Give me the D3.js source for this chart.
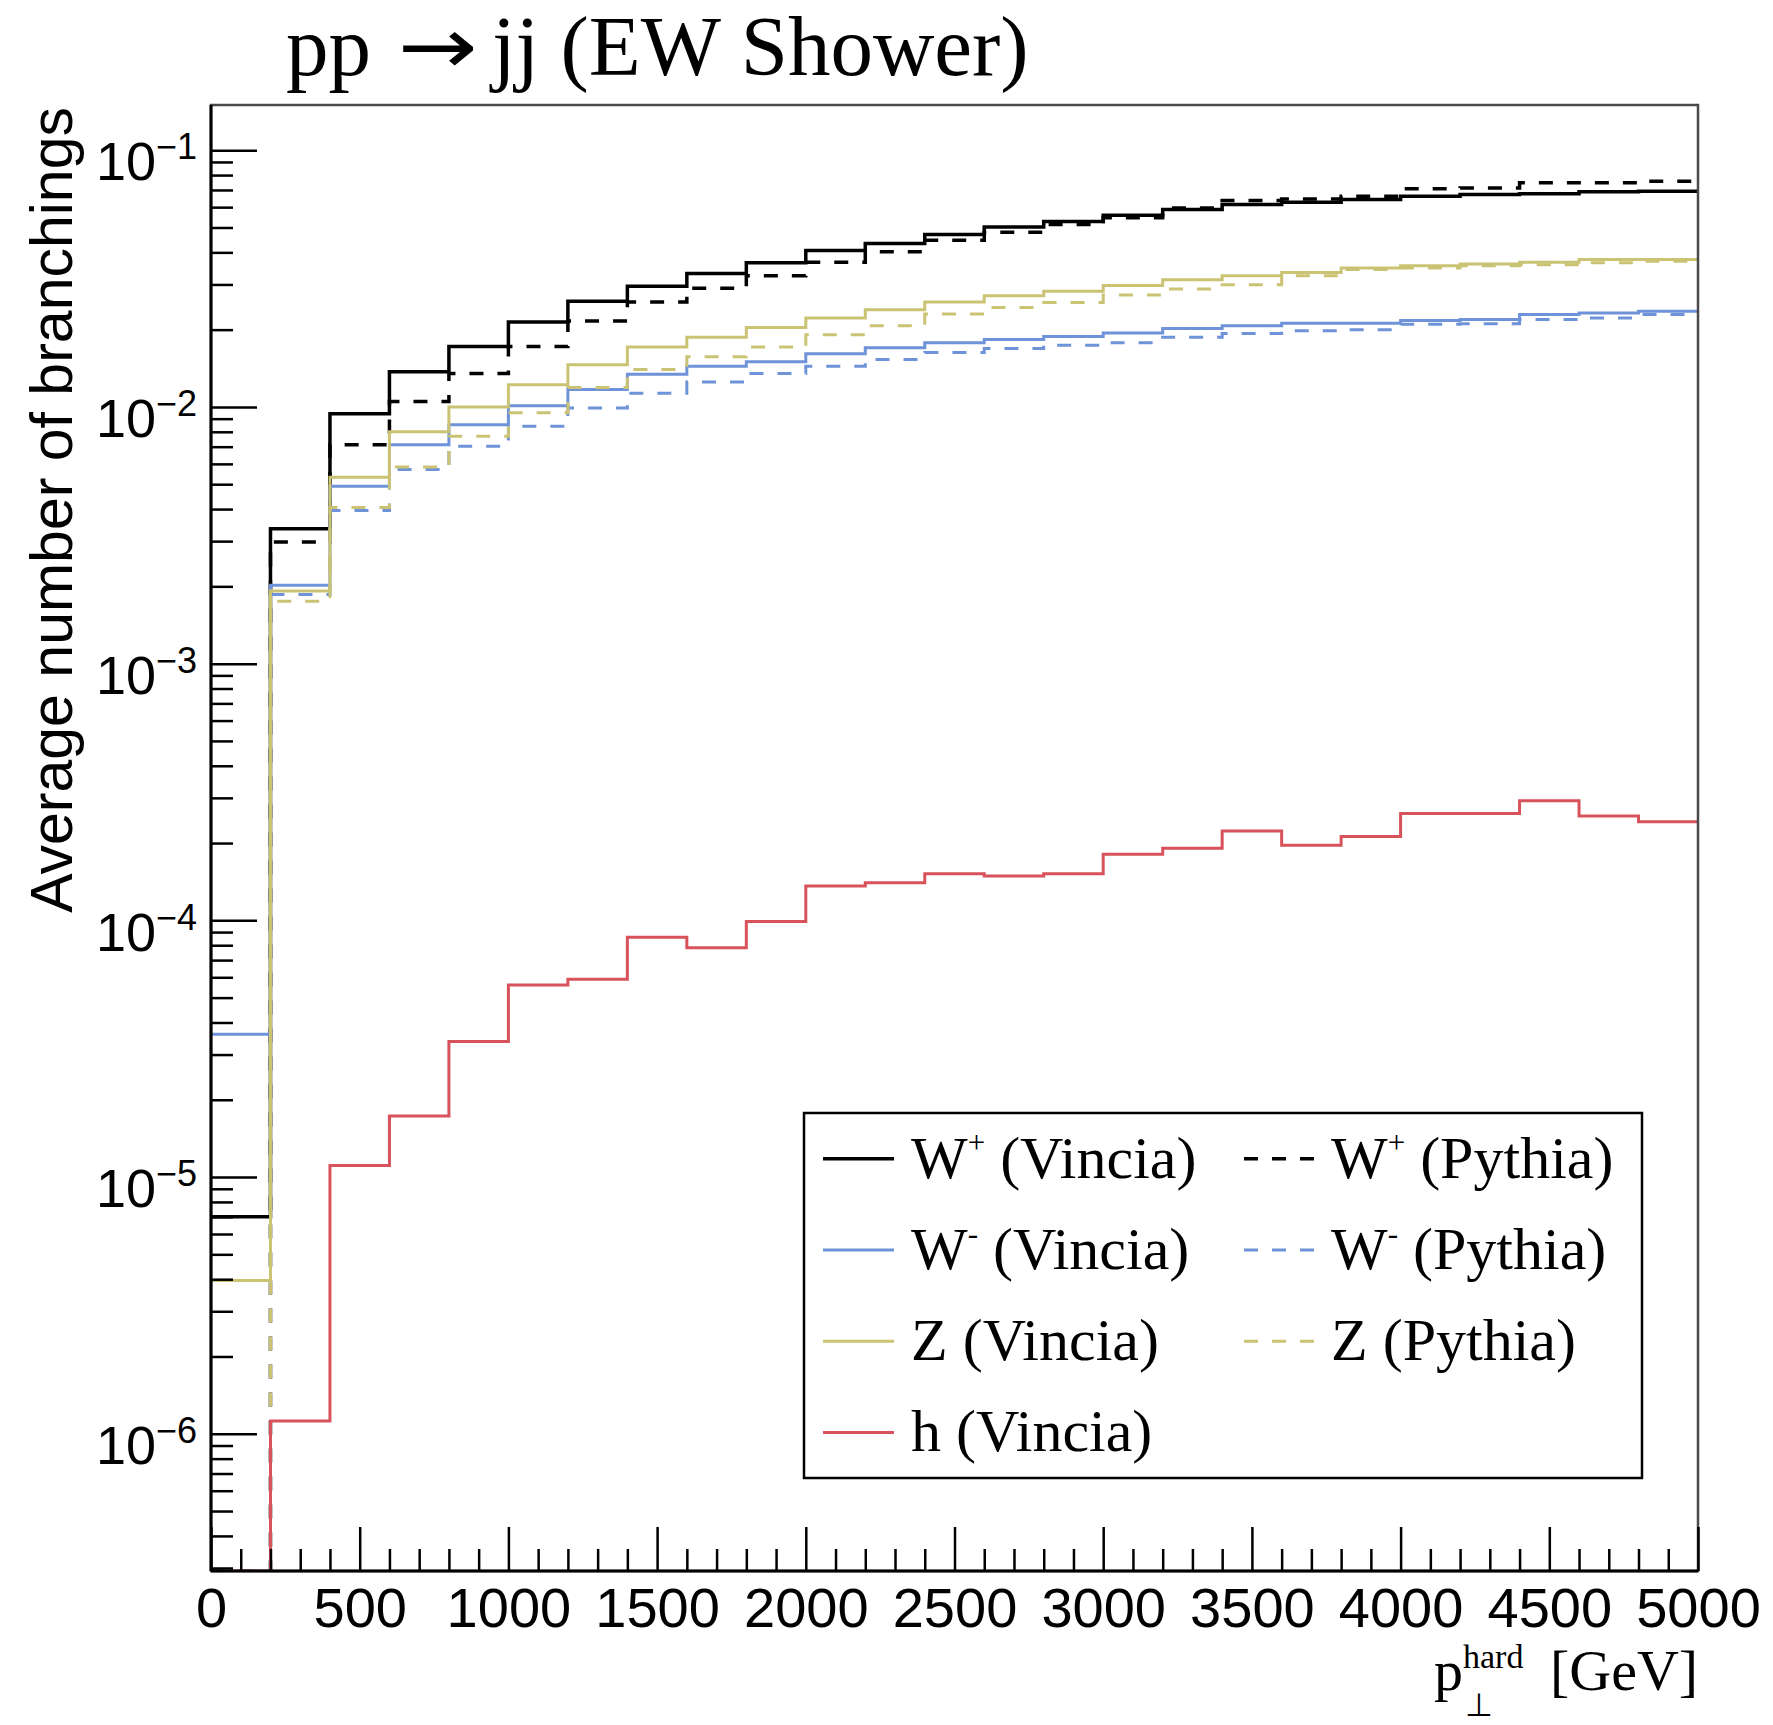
<!DOCTYPE html>
<html>
<head>
<meta charset="utf-8">
<script src="https://cdn.jsdelivr.net/npm/d3@7"></script>
<style>
  body { margin: 0; background: #fff; }
</style>
</head>
<body>
<div id="chart"></div>
<script>
// bins of 200 GeV, low edges
const binLow = [0, 200, 400, 600, 800, 1000, 1200, 1400, 1600, 1800, 2000, 2200, 2400,
    2600, 2800, 3000, 3200, 3400, 3600, 3800, 4000, 4200, 4400, 4600, 4800];
const binWidth = 200;

// average number of branchings per bin (0 = empty bin)
const wPlusVincia = [7.0e-6, 3.35e-3, 9.4e-3, 1.37e-2, 1.72e-2, 2.14e-2, 2.58e-2, 2.95e-2, 3.31e-2,
    3.64e-2, 4.07e-2, 4.33e-2, 4.69e-2, 5.02e-2, 5.28e-2, 5.58e-2, 5.88e-2, 6.14e-2, 6.27e-2,
    6.42e-2, 6.62e-2, 6.72e-2, 6.76e-2, 6.89e-2, 6.92e-2];
const wPlusPythia = [0, 2.98e-3, 7.13e-3, 1.05e-2, 1.35e-2, 1.72e-2, 2.16e-2, 2.56e-2, 2.9e-2,
    3.24e-2, 3.66e-2, 4.02e-2, 4.46e-2, 4.79e-2, 5.13e-2, 5.45e-2, 5.96e-2, 6.37e-2, 6.46e-2,
    6.62e-2, 7.08e-2, 7.13e-2, 7.46e-2, 7.46e-2, 7.57e-2];
const wMinusVincia = [3.6e-5, 2.02e-3, 4.91e-3, 7.13e-3, 8.53e-3, 1.01e-2, 1.17e-2, 1.34e-2, 1.44e-2,
    1.50e-2, 1.61e-2, 1.70e-2, 1.78e-2, 1.83e-2, 1.88e-2, 1.94e-2, 2.02e-2, 2.07e-2, 2.12e-2,
    2.12e-2, 2.17e-2, 2.19e-2, 2.29e-2, 2.32e-2, 2.36e-2];
const wMinusPythia = [0, 1.86e-3, 3.95e-3, 5.7e-3, 7.03e-3, 8.4e-3, 9.9e-3, 1.13e-2, 1.25e-2,
    1.35e-2, 1.44e-2, 1.53e-2, 1.63e-2, 1.69e-2, 1.74e-2, 1.78e-2, 1.87e-2, 1.93e-2, 1.98e-2,
    2.0e-2, 2.10e-2, 2.11e-2, 2.19e-2, 2.22e-2, 2.29e-2];
const zVincia = [3.95e-6, 1.92e-3, 5.32e-3, 8.0e-3, 1.0e-2, 1.22e-2, 1.46e-2, 1.71e-2, 1.87e-2,
    2.04e-2, 2.22e-2, 2.39e-2, 2.56e-2, 2.71e-2, 2.82e-2, 2.97e-2, 3.13e-2, 3.24e-2, 3.34e-2,
    3.48e-2, 3.55e-2, 3.6e-2, 3.66e-2, 3.75e-2, 3.75e-2];
const zPythia = [0, 1.75e-3, 4.06e-3, 5.83e-3, 7.69e-3, 9.5e-3, 1.19e-2, 1.40e-2, 1.57e-2,
    1.71e-2, 1.91e-2, 2.07e-2, 2.30e-2, 2.44e-2, 2.55e-2, 2.73e-2, 2.88e-2, 2.99e-2, 3.24e-2,
    3.43e-2, 3.48e-2, 3.55e-2, 3.58e-2, 3.64e-2, 3.69e-2];
const hVincia = [0, 1.12e-6, 1.11e-5, 1.73e-5, 3.37e-5, 5.6e-5, 5.89e-5, 8.6e-5, 7.82e-5,
    9.9e-5, 1.36e-4, 1.40e-4, 1.52e-4, 1.49e-4, 1.52e-4, 1.81e-4, 1.91e-4, 2.23e-4, 1.96e-4,
    2.12e-4, 2.61e-4, 2.61e-4, 2.92e-4, 2.55e-4, 2.42e-4];

// axis ticks
const xTickValues = [0, 500, 1000, 1500, 2000, 2500, 3000, 3500, 4000, 4500, 5000];
const yTickExponents = [-1, -2, -3, -4, -5, -6];

const width = 1773, height = 1725;
const frame = { left: 211, right: 1698, top: 105, bottom: 1571 };
const sans = '"Liberation Sans", Arial, Helvetica, sans-serif';
const serif = '"Liberation Serif", "Times New Roman", Times, serif';

const colors = { black: '#000000', blue: '#6f93d9', yellow: '#cbc374', red: '#d8525c' };

const series = [
    { values: wPlusVincia, color: colors.black, dash: null, width: 3.5 },
    { values: wPlusPythia, color: colors.black, dash: '14,14', width: 3.5 },
    { values: wMinusVincia, color: colors.blue, dash: null, width: 3 },
    { values: wMinusPythia, color: colors.blue, dash: '14,14', width: 3 },
    { values: zVincia, color: colors.yellow, dash: null, width: 3 },
    { values: zPythia, color: colors.yellow, dash: '14,14', width: 3 },
    { values: hVincia, color: colors.red, dash: null, width: 3 }
];

const svg = d3.select('#chart').append('svg')
    .attr('width', width)
    .attr('height', height)
    .attr('viewBox', `0 0 ${width} ${height}`)
    .style('background', '#fff');

const x = d3.scaleLinear().domain([0, 5000]).range([frame.left, frame.right]);
const y = d3.scaleLog().domain([2.92e-7, 0.15]).range([frame.bottom, frame.top]);

//clip
svg.append('defs').append('clipPath')
    .attr('id', 'clip')
    .append('rect')
    .attr('x', frame.left)
    .attr('y', frame.top)
    .attr('width', frame.right - frame.left)
    .attr('height', frame.bottom - frame.top);

//histogram outlines
const line = d3.line()
    .x(d => x(d[0]))
    .y(d => d[1] > 0 ? y(d[1]) : frame.bottom)
    .curve(d3.curveStepAfter);

const plotGroup = svg.append('g').attr('clip-path', 'url(#clip)');
series.forEach(s => {
    const pts = binLow.map((lo, i) => [lo, s.values[i]]);
    pts.push([binLow[binLow.length - 1] + binWidth, s.values[s.values.length - 1]]);
    plotGroup.append('path')
        .attr('d', line(pts))
        .attr('fill', 'none')
        .attr('stroke', s.color)
        .attr('stroke-width', s.width)
        .attr('stroke-dasharray', s.dash);
});

//frame
svg.append('rect')
    .attr('x', frame.left)
    .attr('y', frame.top)
    .attr('width', frame.right - frame.left)
    .attr('height', frame.bottom - frame.top)
    .attr('fill', 'none')
    .attr('stroke', '#4a4a4a')
    .attr('stroke-width', 2.5);

//x axis
const xMinor = d3.range(0, 5001, 100).filter(v => v % 500 !== 0);
const xAxisG = svg.append('g')
    .attr('transform', `translate(0,${frame.bottom})`)
    .call(d3.axisBottom(x).tickValues(xTickValues).tickSize(-44).tickPadding(16).tickFormat(d3.format('d')));
svg.append('g')
    .attr('transform', `translate(0,${frame.bottom})`)
    .call(d3.axisBottom(x).tickValues(xMinor).tickSize(-22).tickFormat(''))
    .call(g => g.select('.domain').remove());
xAxisG.select('.domain').attr('stroke-width', 3).attr('d', `M${frame.left},0H${frame.right}`);
xAxisG.selectAll('.tick text')
    .attr('font-family', sans)
    .attr('font-size', 56)
    .attr('fill', '#000');

//y axis
const yMajor = yTickExponents.map(e => Math.pow(10, e));
const yMinor = y.ticks().filter(v => {
    const m = v / Math.pow(10, Math.floor(Math.log10(v) + 1e-9));
    return Math.abs(m - 1) > 1e-6;
});
const yAxisG = svg.append('g')
    .attr('transform', `translate(${frame.left},0)`)
    .call(d3.axisLeft(y).tickValues(yMajor).tickSize(-46).tickPadding(14).tickFormat(''));
svg.append('g')
    .attr('transform', `translate(${frame.left},0)`)
    .call(d3.axisLeft(y).tickValues(yMinor).tickSize(-22).tickFormat(''))
    .call(g => g.select('.domain').remove());
yAxisG.select('.domain').attr('stroke-width', 3).attr('d', `M0,${frame.bottom}V${frame.top}`);
yAxisG.selectAll('.tick text')
    .attr('font-family', sans)
    .attr('font-size', 54)
    .attr('fill', '#000')
    .attr('dy', '0.55em')
    .each(function (d) {
        const t = d3.select(this);
        t.append('tspan').text('10');
        t.append('tspan')
            .attr('font-size', 36)
            .attr('dy', -21)
            .text('\u2212' + Math.round(-Math.log10(d)));
    });
svg.selectAll('.tick line').attr('stroke', '#000').attr('stroke-width', 2.5);

//title
svg.append('text')
    .attr('x', 286)
    .attr('y', 75)
    .attr('font-family', serif)
    .attr('font-size', 85)
    .attr('fill', '#000')
    .text('pp');
svg.append('text')
    .attr('x', 398)
    .attr('y', 73)
    .attr('font-family', '"DejaVu Sans", sans-serif')
    .attr('font-size', 78)
    .attr('textLength', 80)
    .attr('lengthAdjust', 'spacingAndGlyphs')
    .attr('fill', '#000')
    .text('\u2192');
svg.append('text')
    .attr('x', 492)
    .attr('y', 75)
    .attr('font-family', serif)
    .attr('font-size', 85)
    .attr('fill', '#000')
    .text('jj (EW Shower)');

//y title
svg.append('text')
    .attr('transform', 'rotate(-90)')
    .attr('x', -107)
    .attr('y', 72)
    .attr('text-anchor', 'end')
    .attr('font-family', sans)
    .attr('font-size', 59)
    .attr('fill', '#000')
    .text('Average number of branchings');

//x title (p_perp^hard [GeV])
const xt = svg.append('text')
    .attr('y', 1690)
    .attr('font-family', serif)
    .attr('font-size', 58)
    .attr('fill', '#000');
xt.append('tspan').attr('x', 1434).text('p');
xt.append('tspan').attr('x', 1463).attr('dy', -22).attr('font-size', 34).text('hard');
xt.append('tspan').attr('x', 1465).attr('dy', 48).attr('font-size', 32).text('\u22A5');
xt.append('tspan').attr('x', 1550).attr('dy', -26).text('[GeV]');

//legend
const legendBox = { x: 804, y: 1113, w: 838, h: 365 };
const legendEntries = [
    { s: 0, col: 0, row: 0, base: 'W', sup: '+', rest: ' (Vincia)' },
    { s: 1, col: 1, row: 0, base: 'W', sup: '+', rest: ' (Pythia)' },
    { s: 2, col: 0, row: 1, base: 'W', sup: '-', rest: ' (Vincia)' },
    { s: 3, col: 1, row: 1, base: 'W', sup: '-', rest: ' (Pythia)' },
    { s: 4, col: 0, row: 2, base: 'Z', sup: '', rest: ' (Vincia)' },
    { s: 5, col: 1, row: 2, base: 'Z', sup: '', rest: ' (Pythia)' },
    { s: 6, col: 0, row: 3, base: 'h', sup: '', rest: ' (Vincia)' }
];
const legend = svg.append('g');
legend.append('rect')
    .attr('x', legendBox.x)
    .attr('y', legendBox.y)
    .attr('width', legendBox.w)
    .attr('height', legendBox.h)
    .attr('fill', '#fff')
    .attr('stroke', '#000')
    .attr('stroke-width', 2.5);
const rowH = legendBox.h / 4;
const colX = [{ l0: 823, l1: 894, t: 911 }, { l0: 1244, l1: 1317, t: 1331 }];
legendEntries.forEach(e => {
    const s = series[e.s];
    const cy = legendBox.y + rowH * (e.row + 0.5);
    const c = colX[e.col];
    legend.append('line')
        .attr('x1', c.l0).attr('x2', c.l1)
        .attr('y1', cy).attr('y2', cy)
        .attr('stroke', s.color)
        .attr('stroke-width', s.width)
        .attr('stroke-dasharray', s.dash);
    const t = legend.append('text')
        .attr('x', c.t)
        .attr('y', cy + 19)
        .attr('font-family', serif)
        .attr('font-size', 60)
        .attr('fill', '#000');
    t.append('tspan').text(e.base);
    if (e.sup) {
        t.append('tspan').attr('font-size', 31).attr('dy', -25).text(e.sup);
        t.append('tspan').attr('dy', 25).text(e.rest);
    } else {
        t.append('tspan').text(e.rest);
    }
});
</script>
</body>
</html>
